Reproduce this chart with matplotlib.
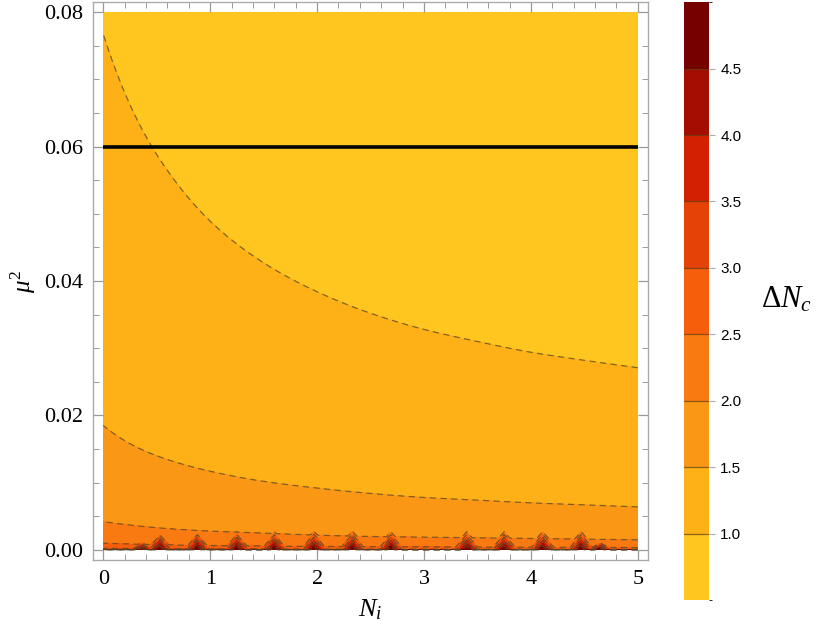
import numpy as np
import matplotlib
matplotlib.use("Agg")
from matplotlib import pyplot as plt
from matplotlib.colors import ListedColormap, BoundaryNorm
from matplotlib.ticker import MultipleLocator

plt.rcParams['mathtext.fontset'] = 'custom'
plt.rcParams['mathtext.rm'] = 'Liberation Serif'
plt.rcParams['mathtext.it'] = 'Liberation Serif:italic'
plt.rcParams['mathtext.fallback'] = 'stix'
plt.rcParams['font.family'] = ['Liberation Serif', 'DejaVu Serif']

levels = [0.5, 1.0, 1.5, 2.0, 2.5, 3.0, 3.5, 4.0, 4.5, 5.0]
band_colors = ['#FEC61E', '#FDB116', '#FA9816', '#FA7A12', '#F65E0C',
               '#E44206', '#D32000', '#A40E00', '#740000']
cbar_ticks = [1.0, 1.5, 2.0, 2.5, 3.0, 3.5, 4.0, 4.5]

# level curves mu^2(N_i)
N_read = [0, 0.25, 0.5, 1, 1.5, 2, 2.5, 3, 3.5, 4, 4.5, 5]
curve_levels = [1.0, 1.5, 2.0, 2.5]
mu2_lvl10 = [0.0767, 0.0662, 0.0588, 0.0489, 0.0427, 0.0384, 0.0352, 0.0328, 0.0310, 0.0294, 0.0282, 0.0271]
mu2_lvl15 = [0.0185, 0.0158, 0.0140, 0.0117, 0.0102, 0.0092, 0.0084, 0.0078, 0.0074, 0.0070, 0.0067, 0.0064]
mu2_lvl20 = [0.0042, 0.0037, 0.0033, 0.0028, 0.0025, 0.0022, 0.0020, 0.0019, 0.0018, 0.0017, 0.0016, 0.0015]
mu2_lvl25 = [0.00100, 0.00088, 0.00078, 0.00066, 0.00058, 0.00052, 0.00048, 0.00045, 0.00042, 0.00040, 0.00038, 0.00036]

# sampling spikes near mu^2 = 0 (position, apex height)
spike_N = [0.36, 0.53, 0.88, 1.25, 1.60, 1.97, 2.33, 2.69, 3.40, 3.75, 4.11, 4.47, 4.65]
spike_top = [0.0013, 0.0026, 0.0027, 0.0027, 0.0027, 0.0028, 0.0028, 0.0027, 0.0027, 0.0027, 0.0027, 0.0027, 0.0012]

mu2_line = 0.06
N_range = [0, 5]
mu2_range = [0, 0.08]


def pchip(xk, yk, x):
    xk = np.asarray(xk, float)
    yk = np.asarray(yk, float)
    h = np.diff(xk)
    d = np.diff(yk) / h
    m = np.zeros_like(yk)
    for k in range(1, len(xk) - 1):
        if d[k - 1] * d[k] > 0:
            w1 = 2 * h[k] + h[k - 1]
            w2 = h[k] + 2 * h[k - 1]
            m[k] = (w1 + w2) / (w1 / d[k - 1] + w2 / d[k])
    m[0] = ((2 * h[0] + h[1]) * d[0] - h[0] * d[1]) / (h[0] + h[1])
    m[-1] = ((2 * h[-1] + h[-2]) * d[-1] - h[-1] * d[-2]) / (h[-1] + h[-2])
    i = np.clip(np.searchsorted(xk, x) - 1, 0, len(xk) - 2)
    t = (x - xk[i]) / h[i]
    return ((2 * t**3 - 3 * t**2 + 1) * yk[i] + (t**3 - 2 * t**2 + t) * h[i] * m[i]
            + (-2 * t**3 + 3 * t**2) * yk[i + 1] + (t**3 - t**2) * h[i] * m[i + 1])


def build_field(Ng, Mg):
    curves = [mu2_lvl10, mu2_lvl15, mu2_lvl20, mu2_lvl25]
    lev = np.array(curve_levels)
    LC = np.array([pchip(N_read, np.log(c), Ng) for c in curves])
    Z = np.zeros((len(Mg), len(Ng)))
    with np.errstate(divide='ignore'):
        logm = np.log(Mg)
    for j in range(len(Ng)):
        x, f = LC[::-1, j], lev[::-1]
        z = np.interp(logm, x, f)
        lo = logm < x[0]
        z[lo] = f[0] + (logm[lo] - x[0]) * (f[1] - f[0]) / (x[1] - x[0])
        hi = logm > x[-1]
        z[hi] = f[-1] + (logm[hi] - x[-1]) * (f[-1] - f[-2]) / (x[-1] - x[-2])
        Z[:, j] = z
    NN, MM = np.meshgrid(Ng, Mg)
    for sn, st in zip(spike_N, spike_top):
        T = 5.2 - 3.2 * (np.abs(NN - sn) / 0.15 + MM / st)
        Z = np.maximum(Z, T)
    return np.clip(np.nan_to_num(Z, nan=5, posinf=5), 0.5, 4.999)


Ng = np.linspace(N_range[0], N_range[1], 801)
Mg = np.unique(np.concatenate([[0.0], np.geomspace(1e-7, mu2_range[1], 400),
                               np.linspace(0, mu2_range[1], 600)]))
Z = build_field(Ng, Mg)

fig = plt.figure(figsize=(8.3, 6.36), dpi=100)
ax = fig.add_axes([0.1117, 0.1195, 0.6687, 0.8774])
cax = fig.add_axes([0.8245, 0.0566, 0.0298, 0.9400])

cmap = ListedColormap(band_colors)
norm = BoundaryNorm(levels, cmap.N)
cf = ax.contourf(Ng, Mg, Z, levels=levels, cmap=cmap, norm=norm)
ax.contour(Ng, Mg, Z, levels=levels[1:-1], colors='#5a4a28', linewidths=0.9,
           linestyles=[(0, (5, 3.5))], alpha=0.75)
ax.hlines(mu2_line, N_range[0], N_range[1], colors='black', linewidth=2.6, zorder=5)

ax.set_xlim(-0.099, 5.093)
ax.set_ylim(-0.0015, 0.0815)
ax.xaxis.set_major_locator(MultipleLocator(1))
ax.xaxis.set_minor_locator(MultipleLocator(0.2))
ax.yaxis.set_major_locator(MultipleLocator(0.02))
ax.yaxis.set_minor_locator(MultipleLocator(0.005))
ax.yaxis.set_major_formatter(plt.FuncFormatter(lambda v, p: f'{v:.2f}'))
ax.tick_params(which='both', direction='in', top=True, right=True, color='#999999',
               labelsize=16, pad=7)
ax.tick_params(which='major', length=7, width=0.9)
ax.tick_params(which='minor', length=4, width=0.7)
for s in ax.spines.values():
    s.set_color('#aaaaaa')
    s.set_linewidth(1.0)

ax.set_xlabel(r'$N_i$', fontsize=19, labelpad=6)
ax.set_ylabel(r'$\mu^2$', fontsize=18, labelpad=4)

cbar = fig.colorbar(cf, cax=cax, ticks=cbar_ticks)
cbar.outline.set_visible(False)
for lv in levels[1:-1]:
    cax.axhline(lv, color='#5a3a10', lw=0.9, alpha=0.7)
cax.tick_params(length=4, color='#aaaaaa', width=0.8, labelsize=11, pad=4)
for t in cax.get_yticklabels():
    t.set_family('Liberation Sans')
cax.yaxis.set_major_formatter(plt.FuncFormatter(lambda v, p: f'{v:.1f}'))
fig.text(0.948, 0.528, r'$\mathit{Δ}N_c$', fontsize=22, ha='center', va='center')

fig.savefig('out.png', dpi=100)
